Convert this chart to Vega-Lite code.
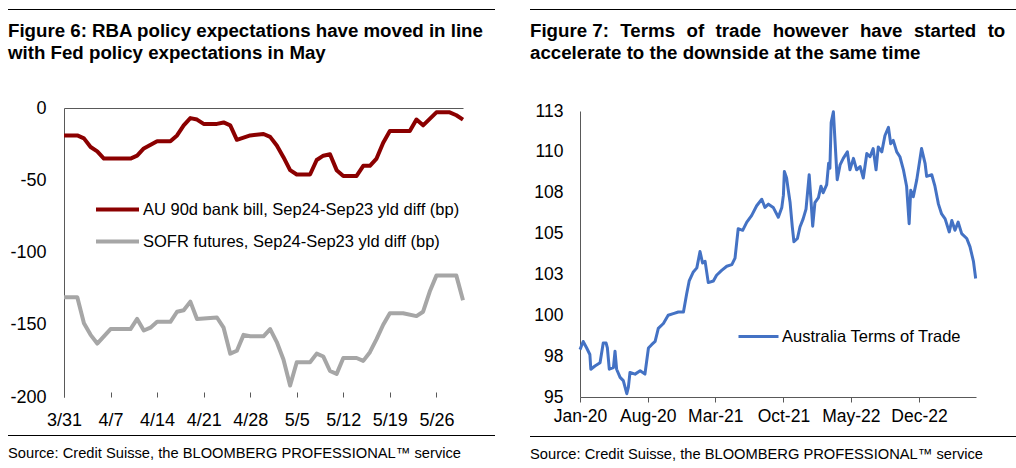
{
  "$schema": "https://vega.github.io/schema/vega-lite/v6.json",
  "padding": {"left": 8, "top": 9, "right": 0, "bottom": 0},
  "background": "white",
  "config": {
    "view": {"stroke": null},
    "font": "Liberation Sans",
    "axis": {"labelFont": "Liberation Sans", "labelColor": "#000", "domainColor": "#595959", "tickColor": "#595959", "grid": false, "labelFlush": false, "labelOverlap": false},
    "legend": {"labelFont": "Liberation Sans", "labelFontSize": 16.5, "labelColor": "#000", "labelLimit": 0},
    "title": {"font": "Liberation Sans", "color": "#000"}
  },
  "spacing": 35,
  "resolve": {"scale": {"color": "independent"}, "legend": {"color": "independent"}},
  "hconcat": [
    {
      "columns": 1, "align": "none", "spacing": 36,
      "resolve": {"scale": {"color": "independent"}, "legend": {"color": "independent"}},
      "concat": [
        {
          "width": 487, "height": 1,
          "title": {"text": ["Figure 6: RBA policy expectations have moved in line", "with Fed policy expectations in May"], "orient": "bottom", "anchor": "start", "fontSize": 18.7, "fontWeight": "bold", "offset": 12, "lineHeight": 22},
          "data": {"values": [{}]},
          "mark": {"type": "rect", "color": "#000"},
          "encoding": {}
        },
        {
          "columns": 1, "align": "none", "spacing": 6,
          "resolve": {"scale": {"color": "independent"}, "legend": {"color": "independent"}},
          "concat": [
            {
              "width": 455, "height": 289,
              "data": {"values": [
                {"date": "2023-03-31", "series": "AU 90d bank bill, Sep24-Sep23 yld diff (bp)", "value": -19},
                {"date": "2023-04-02", "series": "AU 90d bank bill, Sep24-Sep23 yld diff (bp)", "value": -19},
                {"date": "2023-04-03", "series": "AU 90d bank bill, Sep24-Sep23 yld diff (bp)", "value": -21},
                {"date": "2023-04-04", "series": "AU 90d bank bill, Sep24-Sep23 yld diff (bp)", "value": -27},
                {"date": "2023-04-05", "series": "AU 90d bank bill, Sep24-Sep23 yld diff (bp)", "value": -30},
                {"date": "2023-04-06", "series": "AU 90d bank bill, Sep24-Sep23 yld diff (bp)", "value": -35},
                {"date": "2023-04-10", "series": "AU 90d bank bill, Sep24-Sep23 yld diff (bp)", "value": -35},
                {"date": "2023-04-11", "series": "AU 90d bank bill, Sep24-Sep23 yld diff (bp)", "value": -33},
                {"date": "2023-04-12", "series": "AU 90d bank bill, Sep24-Sep23 yld diff (bp)", "value": -28},
                {"date": "2023-04-14", "series": "AU 90d bank bill, Sep24-Sep23 yld diff (bp)", "value": -23},
                {"date": "2023-04-16", "series": "AU 90d bank bill, Sep24-Sep23 yld diff (bp)", "value": -23},
                {"date": "2023-04-17", "series": "AU 90d bank bill, Sep24-Sep23 yld diff (bp)", "value": -19},
                {"date": "2023-04-18", "series": "AU 90d bank bill, Sep24-Sep23 yld diff (bp)", "value": -12},
                {"date": "2023-04-19", "series": "AU 90d bank bill, Sep24-Sep23 yld diff (bp)", "value": -7},
                {"date": "2023-04-20", "series": "AU 90d bank bill, Sep24-Sep23 yld diff (bp)", "value": -8},
                {"date": "2023-04-21", "series": "AU 90d bank bill, Sep24-Sep23 yld diff (bp)", "value": -11},
                {"date": "2023-04-23", "series": "AU 90d bank bill, Sep24-Sep23 yld diff (bp)", "value": -11},
                {"date": "2023-04-24", "series": "AU 90d bank bill, Sep24-Sep23 yld diff (bp)", "value": -10},
                {"date": "2023-04-25", "series": "AU 90d bank bill, Sep24-Sep23 yld diff (bp)", "value": -12},
                {"date": "2023-04-26", "series": "AU 90d bank bill, Sep24-Sep23 yld diff (bp)", "value": -22},
                {"date": "2023-04-28", "series": "AU 90d bank bill, Sep24-Sep23 yld diff (bp)", "value": -19},
                {"date": "2023-04-30", "series": "AU 90d bank bill, Sep24-Sep23 yld diff (bp)", "value": -18},
                {"date": "2023-05-01", "series": "AU 90d bank bill, Sep24-Sep23 yld diff (bp)", "value": -20},
                {"date": "2023-05-02", "series": "AU 90d bank bill, Sep24-Sep23 yld diff (bp)", "value": -26},
                {"date": "2023-05-03", "series": "AU 90d bank bill, Sep24-Sep23 yld diff (bp)", "value": -34},
                {"date": "2023-05-04", "series": "AU 90d bank bill, Sep24-Sep23 yld diff (bp)", "value": -43},
                {"date": "2023-05-05", "series": "AU 90d bank bill, Sep24-Sep23 yld diff (bp)", "value": -46},
                {"date": "2023-05-07", "series": "AU 90d bank bill, Sep24-Sep23 yld diff (bp)", "value": -46},
                {"date": "2023-05-08", "series": "AU 90d bank bill, Sep24-Sep23 yld diff (bp)", "value": -36},
                {"date": "2023-05-09", "series": "AU 90d bank bill, Sep24-Sep23 yld diff (bp)", "value": -33},
                {"date": "2023-05-10", "series": "AU 90d bank bill, Sep24-Sep23 yld diff (bp)", "value": -32},
                {"date": "2023-05-11", "series": "AU 90d bank bill, Sep24-Sep23 yld diff (bp)", "value": -43},
                {"date": "2023-05-12", "series": "AU 90d bank bill, Sep24-Sep23 yld diff (bp)", "value": -47},
                {"date": "2023-05-14", "series": "AU 90d bank bill, Sep24-Sep23 yld diff (bp)", "value": -47},
                {"date": "2023-05-15", "series": "AU 90d bank bill, Sep24-Sep23 yld diff (bp)", "value": -40},
                {"date": "2023-05-16", "series": "AU 90d bank bill, Sep24-Sep23 yld diff (bp)", "value": -40},
                {"date": "2023-05-17", "series": "AU 90d bank bill, Sep24-Sep23 yld diff (bp)", "value": -35},
                {"date": "2023-05-18", "series": "AU 90d bank bill, Sep24-Sep23 yld diff (bp)", "value": -24},
                {"date": "2023-05-19", "series": "AU 90d bank bill, Sep24-Sep23 yld diff (bp)", "value": -16},
                {"date": "2023-05-22", "series": "AU 90d bank bill, Sep24-Sep23 yld diff (bp)", "value": -16},
                {"date": "2023-05-23", "series": "AU 90d bank bill, Sep24-Sep23 yld diff (bp)", "value": -8},
                {"date": "2023-05-24", "series": "AU 90d bank bill, Sep24-Sep23 yld diff (bp)", "value": -12},
                {"date": "2023-05-26", "series": "AU 90d bank bill, Sep24-Sep23 yld diff (bp)", "value": -3},
                {"date": "2023-05-28", "series": "AU 90d bank bill, Sep24-Sep23 yld diff (bp)", "value": -3},
                {"date": "2023-05-29", "series": "AU 90d bank bill, Sep24-Sep23 yld diff (bp)", "value": -5},
                {"date": "2023-05-30", "series": "AU 90d bank bill, Sep24-Sep23 yld diff (bp)", "value": -8},
                {"date": "2023-03-31", "series": "SOFR futures, Sep24-Sep23 yld diff (bp)", "value": -131},
                {"date": "2023-04-02", "series": "SOFR futures, Sep24-Sep23 yld diff (bp)", "value": -131},
                {"date": "2023-04-03", "series": "SOFR futures, Sep24-Sep23 yld diff (bp)", "value": -149},
                {"date": "2023-04-04", "series": "SOFR futures, Sep24-Sep23 yld diff (bp)", "value": -157},
                {"date": "2023-04-05", "series": "SOFR futures, Sep24-Sep23 yld diff (bp)", "value": -163},
                {"date": "2023-04-07", "series": "SOFR futures, Sep24-Sep23 yld diff (bp)", "value": -153},
                {"date": "2023-04-10", "series": "SOFR futures, Sep24-Sep23 yld diff (bp)", "value": -153},
                {"date": "2023-04-11", "series": "SOFR futures, Sep24-Sep23 yld diff (bp)", "value": -146},
                {"date": "2023-04-12", "series": "SOFR futures, Sep24-Sep23 yld diff (bp)", "value": -154},
                {"date": "2023-04-13", "series": "SOFR futures, Sep24-Sep23 yld diff (bp)", "value": -152},
                {"date": "2023-04-14", "series": "SOFR futures, Sep24-Sep23 yld diff (bp)", "value": -148},
                {"date": "2023-04-16", "series": "SOFR futures, Sep24-Sep23 yld diff (bp)", "value": -148},
                {"date": "2023-04-17", "series": "SOFR futures, Sep24-Sep23 yld diff (bp)", "value": -141},
                {"date": "2023-04-18", "series": "SOFR futures, Sep24-Sep23 yld diff (bp)", "value": -140},
                {"date": "2023-04-19", "series": "SOFR futures, Sep24-Sep23 yld diff (bp)", "value": -134},
                {"date": "2023-04-20", "series": "SOFR futures, Sep24-Sep23 yld diff (bp)", "value": -146},
                {"date": "2023-04-23", "series": "SOFR futures, Sep24-Sep23 yld diff (bp)", "value": -145},
                {"date": "2023-04-24", "series": "SOFR futures, Sep24-Sep23 yld diff (bp)", "value": -152},
                {"date": "2023-04-25", "series": "SOFR futures, Sep24-Sep23 yld diff (bp)", "value": -170},
                {"date": "2023-04-26", "series": "SOFR futures, Sep24-Sep23 yld diff (bp)", "value": -168},
                {"date": "2023-04-27", "series": "SOFR futures, Sep24-Sep23 yld diff (bp)", "value": -157},
                {"date": "2023-04-28", "series": "SOFR futures, Sep24-Sep23 yld diff (bp)", "value": -158},
                {"date": "2023-04-30", "series": "SOFR futures, Sep24-Sep23 yld diff (bp)", "value": -158},
                {"date": "2023-05-01", "series": "SOFR futures, Sep24-Sep23 yld diff (bp)", "value": -153},
                {"date": "2023-05-02", "series": "SOFR futures, Sep24-Sep23 yld diff (bp)", "value": -162},
                {"date": "2023-05-03", "series": "SOFR futures, Sep24-Sep23 yld diff (bp)", "value": -174},
                {"date": "2023-05-04", "series": "SOFR futures, Sep24-Sep23 yld diff (bp)", "value": -192},
                {"date": "2023-05-05", "series": "SOFR futures, Sep24-Sep23 yld diff (bp)", "value": -176},
                {"date": "2023-05-07", "series": "SOFR futures, Sep24-Sep23 yld diff (bp)", "value": -176},
                {"date": "2023-05-08", "series": "SOFR futures, Sep24-Sep23 yld diff (bp)", "value": -170},
                {"date": "2023-05-09", "series": "SOFR futures, Sep24-Sep23 yld diff (bp)", "value": -172},
                {"date": "2023-05-10", "series": "SOFR futures, Sep24-Sep23 yld diff (bp)", "value": -182},
                {"date": "2023-05-11", "series": "SOFR futures, Sep24-Sep23 yld diff (bp)", "value": -184},
                {"date": "2023-05-12", "series": "SOFR futures, Sep24-Sep23 yld diff (bp)", "value": -173},
                {"date": "2023-05-14", "series": "SOFR futures, Sep24-Sep23 yld diff (bp)", "value": -173},
                {"date": "2023-05-15", "series": "SOFR futures, Sep24-Sep23 yld diff (bp)", "value": -175},
                {"date": "2023-05-16", "series": "SOFR futures, Sep24-Sep23 yld diff (bp)", "value": -169},
                {"date": "2023-05-17", "series": "SOFR futures, Sep24-Sep23 yld diff (bp)", "value": -160},
                {"date": "2023-05-18", "series": "SOFR futures, Sep24-Sep23 yld diff (bp)", "value": -150},
                {"date": "2023-05-19", "series": "SOFR futures, Sep24-Sep23 yld diff (bp)", "value": -142},
                {"date": "2023-05-21", "series": "SOFR futures, Sep24-Sep23 yld diff (bp)", "value": -142},
                {"date": "2023-05-23", "series": "SOFR futures, Sep24-Sep23 yld diff (bp)", "value": -144},
                {"date": "2023-05-24", "series": "SOFR futures, Sep24-Sep23 yld diff (bp)", "value": -141},
                {"date": "2023-05-25", "series": "SOFR futures, Sep24-Sep23 yld diff (bp)", "value": -127},
                {"date": "2023-05-26", "series": "SOFR futures, Sep24-Sep23 yld diff (bp)", "value": -116},
                {"date": "2023-05-29", "series": "SOFR futures, Sep24-Sep23 yld diff (bp)", "value": -116},
                {"date": "2023-05-30", "series": "SOFR futures, Sep24-Sep23 yld diff (bp)", "value": -133}
              ]},
              "encoding": {
                "y": {"field": "value", "type": "quantitative", "scale": {"domain": [-200, 0], "nice": false, "zero": false},
                      "axis": {"title": null, "values": [0, -50, -100, -150, -200], "labelExpr": "replace(datum.label, '\u2212', '-')", "ticks": false, "tickSize": 0, "domain": true, "offset": -56, "labelPadding": 18, "labelFontSize": 18}},
                "color": {"field": "series", "type": "nominal",
                          "scale": {"domain": ["AU 90d bank bill, Sep24-Sep23 yld diff (bp)", "SOFR futures, Sep24-Sep23 yld diff (bp)"], "range": ["#8B0000", "#A6A6A6"]},
                          "legend": {"title": null, "orient": "none", "legendX": 86, "legendY": 78, "symbolType": "stroke", "symbolSize": 1849, "symbolStrokeWidth": 4, "rowPadding": 0, "labelOffset": 2, "padding": 0}}
              },
              "layer": [
                {
                  "transform": [{"filter": "datum.series === 'AU 90d bank bill, Sep24-Sep23 yld diff (bp)'"}],
                  "mark": {"type": "line", "strokeWidth": 4, "strokeJoin": "round"},
                  "encoding": {"x": {"field": "date", "type": "temporal",
                    "scale": {"type": "utc", "rangeMin": 56, "domain": [{"year": 2023, "month": 3, "date": 31, "utc": true}, {"year": 2023, "month": 5, "date": 30, "utc": true}]},
                    "axis": {"title": null, "orient": "top", "labels": false, "ticks": false, "tickSize": 0, "domain": true, "domainWidth": 1, "domainColor": "#595959", "grid": true, "gridDash": [5, 1000], "gridColor": "#595959", "gridWidth": 1, "gridOpacity": 1,
                      "values": [{"year": 2023, "month": 3, "date": 31, "utc": true}, {"year": 2023, "month": 4, "date": 7, "utc": true}, {"year": 2023, "month": 4, "date": 14, "utc": true}, {"year": 2023, "month": 4, "date": 21, "utc": true}, {"year": 2023, "month": 4, "date": 28, "utc": true}, {"year": 2023, "month": 5, "date": 5, "utc": true}, {"year": 2023, "month": 5, "date": 12, "utc": true}, {"year": 2023, "month": 5, "date": 19, "utc": true}, {"year": 2023, "month": 5, "date": 26, "utc": true}]}}}
                },
                {
                  "transform": [{"filter": "datum.series === 'SOFR futures, Sep24-Sep23 yld diff (bp)'"}],
                  "mark": {"type": "line", "strokeWidth": 4, "strokeJoin": "round"},
                  "encoding": {"x": {"field": "date", "type": "temporal",
                    "axis": {"title": null, "orient": "bottom", "labels": true, "ticks": false, "tickSize": 0, "domain": false, "labelPadding": 14, "labelFontSize": 18, "format": "%-m/%-d",
                      "values": [{"year": 2023, "month": 3, "date": 31, "utc": true}, {"year": 2023, "month": 4, "date": 7, "utc": true}, {"year": 2023, "month": 4, "date": 14, "utc": true}, {"year": 2023, "month": 4, "date": 21, "utc": true}, {"year": 2023, "month": 4, "date": 28, "utc": true}, {"year": 2023, "month": 5, "date": 5, "utc": true}, {"year": 2023, "month": 5, "date": 12, "utc": true}, {"year": 2023, "month": 5, "date": 19, "utc": true}, {"year": 2023, "month": 5, "date": 26, "utc": true}]}}}
                }
              ],
              "resolve": {"axis": {"x": "independent"}}
            },
            {
              "width": 487, "height": 1,
              "title": {"text": "Source: Credit Suisse, the BLOOMBERG PROFESSIONAL™ service", "orient": "bottom", "anchor": "start", "fontSize": 14.7, "fontWeight": "normal", "offset": 10},
              "data": {"values": [{}]},
              "mark": {"type": "rect", "color": "#000"},
              "encoding": {}
            }
          ]
        }
      ]
    },
    {
      "columns": 1, "align": "none", "spacing": 39,
      "resolve": {"scale": {"color": "independent"}, "legend": {"color": "independent"}},
      "concat": [
        {
          "width": 486, "height": 1,
          "title": {"text": ["Figure 7: \u2004Terms \u2004of \u2004trade \u2004however \u2004have \u2004started \u2004to", "accelerate to the downside at the same time"], "orient": "bottom", "anchor": "start", "fontSize": 18.7, "fontWeight": "bold", "offset": 12, "lineHeight": 22},
          "data": {"values": [{}]},
          "mark": {"type": "rect", "color": "#000"},
          "encoding": {}
        },
        {
          "columns": 1, "align": "none", "spacing": 11,
          "resolve": {"scale": {"color": "independent"}, "legend": {"color": "independent"}},
          "concat": [
            {
              "width": 446, "height": 286,
              "data": {"values": [
                {"date": "2020-01-01", "series": "Australia Terms of Trade", "value": 97.9}, {"date": "2020-01-11", "series": "Australia Terms of Trade", "value": 98.4}, {"date": "2020-01-22", "series": "Australia Terms of Trade", "value": 98.0},
                {"date": "2020-02-01", "series": "Australia Terms of Trade", "value": 97.6}, {"date": "2020-02-04", "series": "Australia Terms of Trade", "value": 96.7}, {"date": "2020-02-17", "series": "Australia Terms of Trade", "value": 96.9},
                {"date": "2020-03-04", "series": "Australia Terms of Trade", "value": 97.1}, {"date": "2020-03-14", "series": "Australia Terms of Trade", "value": 98.3}, {"date": "2020-03-23", "series": "Australia Terms of Trade", "value": 98.3},
                {"date": "2020-03-27", "series": "Australia Terms of Trade", "value": 98.0}, {"date": "2020-04-02", "series": "Australia Terms of Trade", "value": 96.7}, {"date": "2020-04-15", "series": "Australia Terms of Trade", "value": 96.8},
                {"date": "2020-04-20", "series": "Australia Terms of Trade", "value": 97.8}, {"date": "2020-04-25", "series": "Australia Terms of Trade", "value": 96.7}, {"date": "2020-05-06", "series": "Australia Terms of Trade", "value": 96.2},
                {"date": "2020-05-16", "series": "Australia Terms of Trade", "value": 96.0}, {"date": "2020-05-27", "series": "Australia Terms of Trade", "value": 95.2}, {"date": "2020-06-01", "series": "Australia Terms of Trade", "value": 95.6},
                {"date": "2020-06-06", "series": "Australia Terms of Trade", "value": 96.5}, {"date": "2020-06-22", "series": "Australia Terms of Trade", "value": 96.4}, {"date": "2020-07-08", "series": "Australia Terms of Trade", "value": 96.6},
                {"date": "2020-07-23", "series": "Australia Terms of Trade", "value": 96.4}, {"date": "2020-08-03", "series": "Australia Terms of Trade", "value": 98.0}, {"date": "2020-08-13", "series": "Australia Terms of Trade", "value": 98.2},
                {"date": "2020-08-24", "series": "Australia Terms of Trade", "value": 98.4}, {"date": "2020-09-03", "series": "Australia Terms of Trade", "value": 99.2}, {"date": "2020-09-19", "series": "Australia Terms of Trade", "value": 99.5},
                {"date": "2020-10-04", "series": "Australia Terms of Trade", "value": 100.0}, {"date": "2020-10-20", "series": "Australia Terms of Trade", "value": 100.1}, {"date": "2020-11-05", "series": "Australia Terms of Trade", "value": 100.2},
                {"date": "2020-11-21", "series": "Australia Terms of Trade", "value": 100.2}, {"date": "2020-12-01", "series": "Australia Terms of Trade", "value": 101.3}, {"date": "2020-12-09", "series": "Australia Terms of Trade", "value": 102.1},
                {"date": "2020-12-22", "series": "Australia Terms of Trade", "value": 102.65}, {"date": "2021-01-02", "series": "Australia Terms of Trade", "value": 102.9}, {"date": "2021-01-12", "series": "Australia Terms of Trade", "value": 103.9},
                {"date": "2021-01-20", "series": "Australia Terms of Trade", "value": 103.2}, {"date": "2021-01-28", "series": "Australia Terms of Trade", "value": 103.3}, {"date": "2021-02-07", "series": "Australia Terms of Trade", "value": 102.0},
                {"date": "2021-02-23", "series": "Australia Terms of Trade", "value": 102.1}, {"date": "2021-03-05", "series": "Australia Terms of Trade", "value": 102.45}, {"date": "2021-03-21", "series": "Australia Terms of Trade", "value": 102.75},
                {"date": "2021-04-06", "series": "Australia Terms of Trade", "value": 103.0}, {"date": "2021-04-22", "series": "Australia Terms of Trade", "value": 103.1}, {"date": "2021-05-02", "series": "Australia Terms of Trade", "value": 103.5},
                {"date": "2021-05-12", "series": "Australia Terms of Trade", "value": 105.3}, {"date": "2021-05-26", "series": "Australia Terms of Trade", "value": 105.2}, {"date": "2021-06-08", "series": "Australia Terms of Trade", "value": 105.7},
                {"date": "2021-06-23", "series": "Australia Terms of Trade", "value": 106.1}, {"date": "2021-07-09", "series": "Australia Terms of Trade", "value": 106.7}, {"date": "2021-07-25", "series": "Australia Terms of Trade", "value": 107.1},
                {"date": "2021-08-04", "series": "Australia Terms of Trade", "value": 106.6}, {"date": "2021-08-15", "series": "Australia Terms of Trade", "value": 106.8}, {"date": "2021-08-30", "series": "Australia Terms of Trade", "value": 106.6},
                {"date": "2021-09-15", "series": "Australia Terms of Trade", "value": 106.0}, {"date": "2021-09-26", "series": "Australia Terms of Trade", "value": 106.6}, {"date": "2021-10-01", "series": "Australia Terms of Trade", "value": 107.35},
                {"date": "2021-10-04", "series": "Australia Terms of Trade", "value": 108.8}, {"date": "2021-10-11", "series": "Australia Terms of Trade", "value": 108.4}, {"date": "2021-10-16", "series": "Australia Terms of Trade", "value": 107.7},
                {"date": "2021-10-22", "series": "Australia Terms of Trade", "value": 106.9}, {"date": "2021-10-29", "series": "Australia Terms of Trade", "value": 105.4}, {"date": "2021-11-03", "series": "Australia Terms of Trade", "value": 104.5},
                {"date": "2021-11-14", "series": "Australia Terms of Trade", "value": 104.7}, {"date": "2021-11-22", "series": "Australia Terms of Trade", "value": 105.4}, {"date": "2021-12-02", "series": "Australia Terms of Trade", "value": 105.9},
                {"date": "2021-12-11", "series": "Australia Terms of Trade", "value": 106.5}, {"date": "2021-12-21", "series": "Australia Terms of Trade", "value": 108.6}, {"date": "2021-12-26", "series": "Australia Terms of Trade", "value": 107.2},
                {"date": "2022-01-01", "series": "Australia Terms of Trade", "value": 105.45}, {"date": "2022-01-08", "series": "Australia Terms of Trade", "value": 106.9}, {"date": "2022-01-19", "series": "Australia Terms of Trade", "value": 107.2},
                {"date": "2022-01-27", "series": "Australia Terms of Trade", "value": 107.9}, {"date": "2022-02-03", "series": "Australia Terms of Trade", "value": 107.5}, {"date": "2022-02-14", "series": "Australia Terms of Trade", "value": 108.0},
                {"date": "2022-02-20", "series": "Australia Terms of Trade", "value": 109.3}, {"date": "2022-02-24", "series": "Australia Terms of Trade", "value": 109.0}, {"date": "2022-02-28", "series": "Australia Terms of Trade", "value": 111.8},
                {"date": "2022-03-07", "series": "Australia Terms of Trade", "value": 112.45}, {"date": "2022-03-12", "series": "Australia Terms of Trade", "value": 110.7}, {"date": "2022-03-19", "series": "Australia Terms of Trade", "value": 108.3},
                {"date": "2022-03-28", "series": "Australia Terms of Trade", "value": 109.2}, {"date": "2022-04-07", "series": "Australia Terms of Trade", "value": 109.6}, {"date": "2022-04-20", "series": "Australia Terms of Trade", "value": 110.0},
                {"date": "2022-04-28", "series": "Australia Terms of Trade", "value": 108.9}, {"date": "2022-05-09", "series": "Australia Terms of Trade", "value": 109.6}, {"date": "2022-05-19", "series": "Australia Terms of Trade", "value": 108.9},
                {"date": "2022-05-30", "series": "Australia Terms of Trade", "value": 109.1}, {"date": "2022-06-09", "series": "Australia Terms of Trade", "value": 108.4}, {"date": "2022-06-20", "series": "Australia Terms of Trade", "value": 109.9},
                {"date": "2022-06-30", "series": "Australia Terms of Trade", "value": 109.7}, {"date": "2022-07-10", "series": "Australia Terms of Trade", "value": 110.2}, {"date": "2022-07-19", "series": "Australia Terms of Trade", "value": 108.9},
                {"date": "2022-07-26", "series": "Australia Terms of Trade", "value": 110.3}, {"date": "2022-08-06", "series": "Australia Terms of Trade", "value": 110.0}, {"date": "2022-08-16", "series": "Australia Terms of Trade", "value": 111.0},
                {"date": "2022-08-27", "series": "Australia Terms of Trade", "value": 111.5}, {"date": "2022-09-03", "series": "Australia Terms of Trade", "value": 110.5}, {"date": "2022-09-11", "series": "Australia Terms of Trade", "value": 110.7},
                {"date": "2022-09-22", "series": "Australia Terms of Trade", "value": 110.0}, {"date": "2022-10-02", "series": "Australia Terms of Trade", "value": 109.7}, {"date": "2022-10-13", "series": "Australia Terms of Trade", "value": 108.9},
                {"date": "2022-10-23", "series": "Australia Terms of Trade", "value": 107.9}, {"date": "2022-10-31", "series": "Australia Terms of Trade", "value": 105.6}, {"date": "2022-11-05", "series": "Australia Terms of Trade", "value": 107.65},
                {"date": "2022-11-13", "series": "Australia Terms of Trade", "value": 107.25}, {"date": "2022-11-24", "series": "Australia Terms of Trade", "value": 108.3}, {"date": "2022-12-09", "series": "Australia Terms of Trade", "value": 110.2},
                {"date": "2022-12-20", "series": "Australia Terms of Trade", "value": 109.3}, {"date": "2022-12-25", "series": "Australia Terms of Trade", "value": 108.5}, {"date": "2023-01-10", "series": "Australia Terms of Trade", "value": 108.6},
                {"date": "2023-01-20", "series": "Australia Terms of Trade", "value": 107.9}, {"date": "2023-01-31", "series": "Australia Terms of Trade", "value": 106.8}, {"date": "2023-02-10", "series": "Australia Terms of Trade", "value": 106.2},
                {"date": "2023-02-21", "series": "Australia Terms of Trade", "value": 105.9}, {"date": "2023-03-06", "series": "Australia Terms of Trade", "value": 105.1}, {"date": "2023-03-14", "series": "Australia Terms of Trade", "value": 105.8},
                {"date": "2023-03-24", "series": "Australia Terms of Trade", "value": 105.2}, {"date": "2023-04-03", "series": "Australia Terms of Trade", "value": 105.7}, {"date": "2023-04-14", "series": "Australia Terms of Trade", "value": 105.0},
                {"date": "2023-04-30", "series": "Australia Terms of Trade", "value": 104.7}, {"date": "2023-05-10", "series": "Australia Terms of Trade", "value": 104.2}, {"date": "2023-05-21", "series": "Australia Terms of Trade", "value": 103.3},
                {"date": "2023-05-28", "series": "Australia Terms of Trade", "value": 102.25}
              ]},
              "mark": {"type": "line", "strokeWidth": 3, "strokeJoin": "round"},
              "encoding": {
                "x": {"field": "date", "type": "temporal",
                  "scale": {"type": "utc", "rangeMin": 50, "domain": [{"year": 2020, "month": 1, "date": 1, "utc": true}, {"year": 2023, "month": 5, "date": 29, "utc": true}]},
                  "axis": {"title": null, "orient": "bottom", "format": "%b-%y", "ticks": true, "tickSize": 5, "domain": true, "labelPadding": 5, "labelFontSize": 17.5,
                    "values": [{"year": 2020, "month": 1, "date": 1, "utc": true}, {"year": 2020, "month": 8, "date": 1, "utc": true}, {"year": 2021, "month": 3, "date": 1, "utc": true}, {"year": 2021, "month": 10, "date": 1, "utc": true}, {"year": 2022, "month": 5, "date": 1, "utc": true}, {"year": 2022, "month": 12, "date": 1, "utc": true}]}},
                "y": {"field": "value", "type": "quantitative", "scale": {"domain": [95, 112.5], "nice": false, "zero": false},
                  "axis": {"title": null, "values": [95, 97.5, 100, 102.5, 105, 107.5, 110, 112.5], "format": ".0f", "ticks": false, "tickSize": 0, "domain": true, "offset": -50, "labelPadding": 17, "labelFontSize": 17.5}},
                "color": {"field": "series", "type": "nominal", "scale": {"range": ["#4472C4"]},
                  "legend": {"title": null, "orient": "none", "legendX": 207, "legendY": 204, "symbolType": "stroke", "symbolSize": 1600, "symbolStrokeWidth": 3, "labelOffset": 2, "padding": 0}}
              }
            },
            {
              "width": 486, "height": 1,
              "title": {"text": "Source: Credit Suisse, the BLOOMBERG PROFESSIONAL™ service", "orient": "bottom", "anchor": "start", "fontSize": 14.7, "fontWeight": "normal", "offset": 10},
              "data": {"values": [{}]},
              "mark": {"type": "rect", "color": "#000"},
              "encoding": {}
            }
          ]
        }
      ]
    }
  ]
}
